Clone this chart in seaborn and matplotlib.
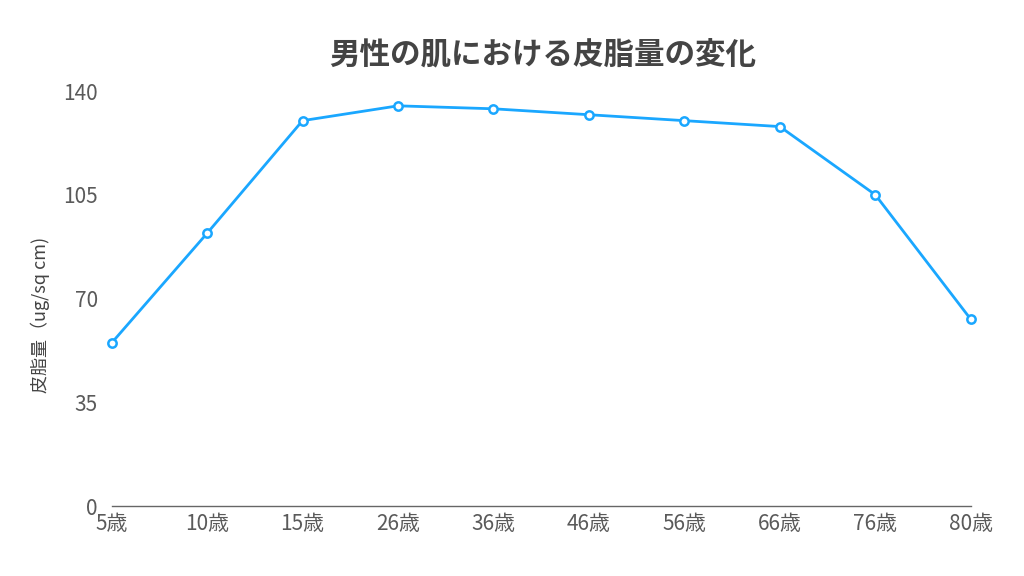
import pandas as pd
import matplotlib
matplotlib.use("Agg")
import matplotlib.pyplot as plt
import seaborn as sns

ages = ["5歳", "10歳", "15歳", "26歳", "36歳", "46歳", "56歳", "66歳", "76歳", "80歳"]
sebum = [55, 92, 130, 135, 134, 132, 130, 128, 105, 63]
y_ticks = [0, 35, 70, 105, 140]

sns.set_theme(style="white")
plt.rcParams["font.family"] = ["Noto Sans CJK JP", "DejaVu Sans"]

df = pd.DataFrame({"age": ages, "sebum": sebum})
df["pos"] = range(len(ages))

fig = plt.figure(figsize=(10.24, 5.76), dpi=100)
ax = fig.add_axes([0.109, 0.1215, 0.839, 0.7205])

sns.lineplot(data=df, x="pos", y="sebum", ax=ax, color="#1aa7ff", linewidth=2.0,
             marker="o", markersize=6, markerfacecolor="white",
             markeredgecolor="#1aa7ff", markeredgewidth=1.8, clip_on=False, zorder=3)

ax.set_xlim(0, len(ages) - 1)
ax.set_ylim(0, 140)
ax.set_xticks(df["pos"])
ax.set_xticklabels(ages)
ax.set_yticks(y_ticks)
ax.tick_params(axis="both", labelsize=15, length=0)
ax.tick_params(axis="x", pad=5)
ax.tick_params(axis="y", pad=10)
for lab in ax.get_xticklabels() + ax.get_yticklabels():
    lab.set_color("#5a5a5a")

for s in ["top", "right", "left"]:
    ax.spines[s].set_visible(False)
ax.spines["bottom"].set_color("#666666")
ax.spines["bottom"].set_linewidth(1.0)

ax.set_xlabel("")
ax.set_ylabel("皮脂量（ug/sq cm)", fontsize=13, color="#444444")
ax.yaxis.set_label_coords(-0.072, 0.46)
fig.text(0.53, 0.903, "男性の肌における皮脂量の変化", ha="center", va="center",
         fontsize=22, fontweight="bold", color="#444444")

fig.savefig("out.png", dpi=100)
